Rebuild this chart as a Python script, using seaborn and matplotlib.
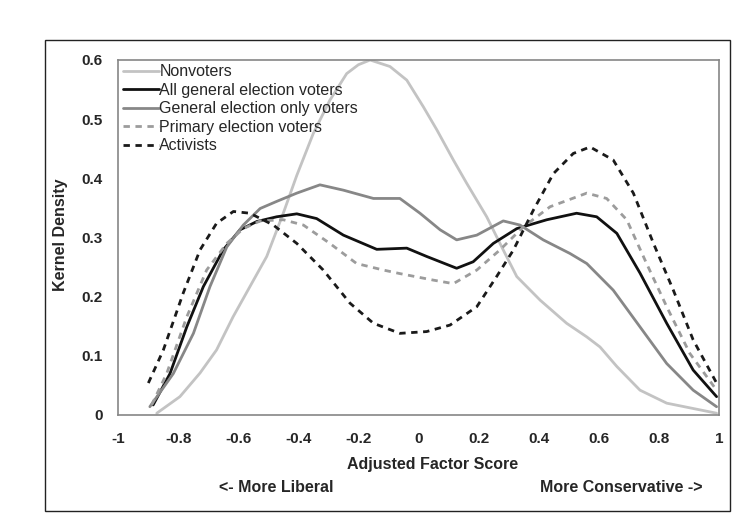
import numpy as np
import pandas as pd
import matplotlib
matplotlib.use("Agg")
import matplotlib.pyplot as plt
from matplotlib.patches import Rectangle
import seaborn as sns

# Values (adjusted factor score, kernel density)
nonvoters_x = [-0.871, -0.794, -0.727, -0.672, -0.617, -0.561, -0.505, -0.45, -0.405,
               -0.35, -0.295, -0.239, -0.2, -0.161, -0.095, -0.039, 0.016, 0.061,
               0.116, 0.16, 0.227, 0.282, 0.327, 0.405, 0.493, 0.56, 0.604, 0.66,
               0.737, 0.826, 0.992]
nonvoters_y = [0.003, 0.031, 0.071, 0.11, 0.166, 0.217, 0.268, 0.341, 0.405,
               0.476, 0.532, 0.577, 0.592, 0.6, 0.589, 0.566, 0.521, 0.482,
               0.431, 0.392, 0.335, 0.279, 0.234, 0.194, 0.155, 0.132, 0.115, 0.082,
               0.042, 0.02, 0.003]

allgen_x = [-0.883, -0.827, -0.771, -0.716, -0.65, -0.594, -0.538, -0.472, -0.405,
            -0.339, -0.25, -0.139, -0.039, 0.027, 0.127, 0.182, 0.249, 0.327,
            0.427, 0.526, 0.593, 0.66, 0.737, 0.826, 0.914, 0.992]
allgen_y = [0.017, 0.07, 0.149, 0.217, 0.279, 0.313, 0.327, 0.335, 0.34,
            0.332, 0.304, 0.28, 0.282, 0.268, 0.248, 0.259, 0.29, 0.315,
            0.33, 0.341, 0.335, 0.307, 0.24, 0.155, 0.076, 0.031]

genonly_x = [-0.894, -0.816, -0.749, -0.694, -0.638, -0.583, -0.527, -0.472, -0.405,
             -0.328, -0.25, -0.15, -0.062, 0.005, 0.072, 0.127, 0.194, 0.282,
             0.338, 0.415, 0.504, 0.56, 0.648, 0.737, 0.826, 0.914, 0.992]
genonly_y = [0.014, 0.07, 0.138, 0.217, 0.284, 0.321, 0.349, 0.361, 0.375,
             0.389, 0.38, 0.366, 0.366, 0.341, 0.313, 0.296, 0.304, 0.328,
             0.321, 0.296, 0.273, 0.256, 0.211, 0.149, 0.087, 0.042, 0.014]

primary_x = [-0.888, -0.838, -0.771, -0.705, -0.638, -0.583, -0.527, -0.45, -0.383,
             -0.295, -0.206, -0.117, -0.062, 0.049, 0.116, 0.194, 0.271, 0.349,
             0.438, 0.56, 0.626, 0.693, 0.759, 0.826, 0.903, 0.992]
primary_y = [0.017, 0.07, 0.166, 0.245, 0.29, 0.315, 0.328, 0.33, 0.321,
             0.29, 0.256, 0.245, 0.239, 0.228, 0.222, 0.245, 0.279, 0.318,
             0.352, 0.375, 0.366, 0.33, 0.256, 0.183, 0.104, 0.042]

activists_x = [-0.899, -0.849, -0.783, -0.727, -0.672, -0.616, -0.561, -0.483, -0.405,
               -0.317, -0.228, -0.15, -0.062, 0.027, 0.105, 0.194, 0.26, 0.316,
               0.382, 0.449, 0.515, 0.571, 0.648, 0.715, 0.782, 0.848, 0.914, 0.992]
activists_y = [0.054, 0.11, 0.206, 0.279, 0.324, 0.344, 0.341, 0.321, 0.29,
               0.245, 0.189, 0.155, 0.138, 0.141, 0.152, 0.183, 0.234, 0.279,
               0.346, 0.408, 0.442, 0.453, 0.431, 0.375, 0.29, 0.211, 0.127, 0.054]

x_ticks = [-1, -0.8, -0.6, -0.4, -0.2, 0, 0.2, 0.4, 0.6, 0.8, 1]
y_ticks = [0, 0.1, 0.2, 0.3, 0.4, 0.5, 0.6]

series = [
    ("Nonvoters", nonvoters_x, nonvoters_y, "#c3c3c3", ""),
    ("All general election voters", allgen_x, allgen_y, "#111111", ""),
    ("General election only voters", genonly_x, genonly_y, "#878787", ""),
    ("Primary election voters", primary_x, primary_y, "#9c9c9c", (2.3, 2.0)),
    ("Activists", activists_x, activists_y, "#1a1a1a", (2.3, 2.0)),
]

sns.set_style("white")
plt.rcParams['font.family'] = ['Liberation Sans', 'DejaVu Sans']

fig = plt.figure(figsize=(7.56, 5.28), dpi=100)
ax = fig.add_axes([118 / 756, 1 - 415 / 528, 601 / 756, 355 / 528])

for name, xs, ys, col, dash in series:
    df = pd.DataFrame({"score": xs, "density": ys})
    sns.lineplot(data=df, x="score", y="density", ax=ax, color=col,
                 linewidth=2.0, label=name)
    ln = ax.lines[-1]
    ln.set_solid_joinstyle('round')
    ln.set_dash_joinstyle('round')
    if dash:
        ln.set_dashes(dash)

ax.set_xlim(-1, 1)
ax.set_ylim(0, 0.6)
ax.set_xticks(x_ticks)
ax.set_xticklabels([f"{t:g}" for t in x_ticks])
ax.set_yticks(y_ticks)
ax.set_yticklabels([f"{t:g}" for t in y_ticks])
ax.tick_params(axis='x', length=4, width=1, color='#868686', direction='out',
               pad=8, labelsize=11)
ax.tick_params(axis='y', length=0, pad=11, labelsize=11)
for lab in ax.get_xticklabels() + ax.get_yticklabels():
    lab.set_fontweight('bold')
for sp in ax.spines.values():
    sp.set_color('#868686')
    sp.set_linewidth(1.2)
    sp.set_visible(True)
ax.set_xlabel("")
ax.set_ylabel("")

leg = ax.legend(loc='upper left', bbox_to_anchor=(0.009, 0.988), frameon=False,
                fontsize=11.5, borderpad=0, borderaxespad=0, labelspacing=0.22,
                handlelength=2.2, handletextpad=0.05)

fig.text(61 / 756, 1 - 235 / 528, "Kernel Density", rotation=90, ha='center',
         va='center', fontsize=11.5, fontweight='bold')
fig.text(433 / 756, 1 - 464 / 528, "Adjusted Factor Score", ha='center',
         va='center', fontsize=11.5, fontweight='bold')
fig.text(276 / 756, 1 - 488 / 528, "<- More Liberal", ha='center',
         va='center', fontsize=11.5, fontweight='bold')
fig.text(621 / 756, 1 - 488 / 528, "More Conservative ->", ha='center',
         va='center', fontsize=11.5, fontweight='bold')

fig.patches.append(Rectangle((45 / 756, 1 - 511 / 528), 685 / 756, 471 / 528,
                             transform=fig.transFigure, fill=False,
                             edgecolor='#222222', linewidth=1.0))

fig.savefig("out.png", dpi=100)
